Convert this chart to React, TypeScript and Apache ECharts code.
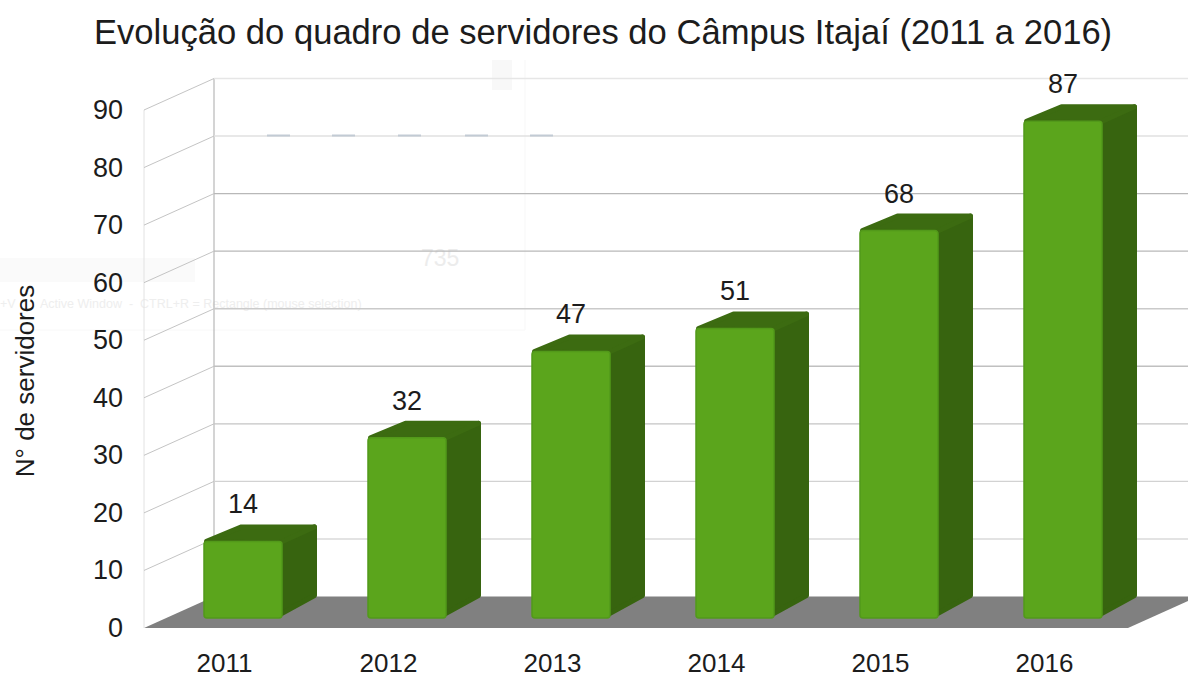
import React, { useEffect, useRef } from "react";
import * as echarts from "echarts";

const titleText = "Evolução do quadro de servidores do Câmpus Itajaí (2011 a 2016)";
const yAxisName = "N° de servidores";
const years = ["2011", "2012", "2013", "2014", "2015", "2016"];
const servers = [14, 32, 47, 51, 68, 87];
const wallTicks = [0, 10, 20, 30, 40, 50, 60, 70, 80, 90];

const FONT = "'Liberation Sans', Arial, sans-serif";
const INK = "#1c1c1c";
const WALL_DX = 70;
const WALL_DY = -31.5;
const gridColor: Record<number, string> = {
  0: "#cfcfcf", 10: "#dadada", 20: "#d2d2d2", 30: "#c4c4c4", 40: "#c0c0c0",
  50: "#cacaca", 60: "#b8b8b8", 70: "#b8b8b8", 80: "#e0e0e0", 90: "#e6e6e6",
};

export default function App() {
  const ref = useRef<HTMLDivElement>(null);
  useEffect(() => {
    document.body.style.margin = "0";
    const chart = echarts.init(ref.current!, undefined, { renderer: "svg" });

    const renderWall = (params: any, api: any) => {
      const tick = api.value(1);
      const cs = params.coordSys;
      const [, y] = api.coord([0, tick]);
      const left = cs.x;
      const right = cs.x + cs.width;
      const children: any[] = [];
      if (tick === 0) {
        children.push({
          type: "polygon",
          shape: { points: [[left, y], [right, y], [right + WALL_DX, y + WALL_DY], [left + WALL_DX, y + WALL_DY]] },
          style: { fill: "#808080" },
        });
        children.push({
          type: "line",
          shape: { x1: left, y1: cs.y, x2: left, y2: y },
          style: { stroke: "#e2e2e2", lineWidth: 1 },
        });
        children.push({
          type: "line",
          shape: { x1: left + WALL_DX, y1: cs.y + WALL_DY, x2: left + WALL_DX, y2: y + WALL_DY },
          style: { stroke: "#b8b8b8", lineWidth: 1.2 },
        });
      } else {
        children.push({
          type: "line",
          shape: { x1: left + WALL_DX, y1: y + WALL_DY, x2: right + WALL_DX, y2: y + WALL_DY },
          style: { stroke: gridColor[tick], lineWidth: 1.4 },
        });
        children.push({
          type: "line",
          shape: { x1: left, y1: y, x2: left + WALL_DX, y2: y + WALL_DY },
          style: { stroke: "#c4c4c4", lineWidth: 1 },
        });
      }
      return { type: "group", children };
    };

    const renderBar = (_params: any, api: any) => {
      const [cx, cy] = api.coord([api.value(0), api.value(1)]);
      const [, baseY] = api.coord([api.value(0), 0]);
      const halfW = 39;
      const x0 = cx + 17 - halfW;
      const x1 = cx + 17 + halfW;
      const yt = cy - 6;
      const yb = baseY - 10;
      const dx = 35;
      const dy = -17;
      const inset = 2.5;
      const round = { lineWidth: inset * 2, lineJoin: "round" };
      return {
        type: "group",
        children: [
          {
            type: "polygon",
            shape: {
              points: [
                [x1 - 4, yt],
                [x1 + dx - inset, yt + dy + inset],
                [x1 + dx - inset, yb + dy - 3 - inset],
                [x1 - 4, yb - inset],
              ],
            },
            style: { fill: "#37640f", stroke: "#37640f", ...round },
          },
          {
            type: "polygon",
            shape: {
              points: [
                [x0 + inset, yt],
                [x0 + dx + inset, yt + dy + inset],
                [x1 + dx - inset, yt + dy + inset],
                [x1 - 4, yt + 2],
              ],
            },
            style: { fill: "#3c6b11", stroke: "#3c6b11", ...round },
          },
          {
            type: "rect",
            shape: { x: x0, y: yt, width: x1 - x0, height: yb - yt, r: 3 },
            style: { fill: "#5ba51c", stroke: "#52991a", lineWidth: 1.5 },
          },
          {
            type: "text",
            x: cx + 17,
            y: yt - 37,
            style: {
              text: String(api.value(1)),
              fontFamily: FONT,
              fontSize: 27,
              fill: INK,
              align: "center",
              verticalAlign: "middle",
            },
          },
        ],
      };
    };

    const ghostDashes = [267, 332, 398, 465, 530];

    chart.setOption({
      animation: false,
      backgroundColor: "#ffffff",
      title: {
        text: titleText,
        left: 94,
        top: 14,
        padding: 0,
        textStyle: { fontFamily: FONT, fontSize: 34.6, fontWeight: "normal", color: INK },
      },
      graphic: [
        { type: "rect", shape: { x: 0, y: 258, width: 195, height: 24 }, style: { fill: "#fafafa" }, z: -1 },
        { type: "line", shape: { x1: 525, y1: 60, x2: 525, y2: 330 }, style: { stroke: "#f7f7f7", lineWidth: 1 }, z: -1 },
        { type: "line", shape: { x1: 0, y1: 330, x2: 525, y2: 330 }, style: { stroke: "#f8f8f8", lineWidth: 1 }, z: -1 },
        { type: "rect", shape: { x: 492, y: 60, width: 20, height: 30 }, style: { fill: "#f8f8f8" }, z: -1 },
        {
          type: "text", x: 0, y: 297, z: -1,
          style: { text: "+V", fontFamily: FONT, fontSize: 12.5, fill: "#eeeeee" },
        },
        {
          type: "text", x: 40, y: 297, z: -1,
          style: { text: "Active Window  -  CTRL+R = Rectangle (mouse selection)", fontFamily: FONT, fontSize: 12.5, fill: "#eeeeee" },
        },
        {
          type: "text", x: 421, y: 246, z: -1,
          style: { text: "735", fontFamily: FONT, fontSize: 23, fill: "#ececec" },
        },
        ...ghostDashes.map((x) => ({
          type: "line", z: 3,
          shape: { x1: x, y1: 135.5, x2: x + 23, y2: 135.5 },
          style: { stroke: "#c2cbd4", lineWidth: 2 },
        })),
        {
          type: "text",
          x: 25, y: 381, rotation: Math.PI / 2,
          style: { text: yAxisName, fontFamily: FONT, fontSize: 26, fill: INK, align: "center", verticalAlign: "middle" },
        },
      ],
      grid: { left: 144, top: 110, width: 984, height: 518, outerBoundsMode: "none" },
      xAxis: {
        type: "category",
        data: years,
        axisLine: { show: false },
        axisTick: { show: false },
        axisLabel: { fontFamily: FONT, fontSize: 26, color: INK, margin: 22, padding: [0, 3, 0, 0], lineHeight: 26 },
      },
      yAxis: {
        type: "value",
        min: 0,
        max: 90,
        interval: 10,
        axisLine: { show: false },
        axisTick: { show: false },
        splitLine: { show: false },
        axisLabel: { fontFamily: FONT, fontSize: 27, color: INK, margin: 21 },
      },
      series: [
        {
          type: "custom",
          z: 1,
          silent: true,
          renderItem: renderWall,
          data: wallTicks.map((t) => [0, t]),
          clip: false,
        },
        {
          type: "custom",
          z: 2,
          renderItem: renderBar,
          data: years.map((_y, i) => [i, servers[i]]),
          encode: { x: 0, y: 1 },
          clip: false,
        },
      ],
    });
    return () => chart.dispose();
  }, []);
  return <div ref={ref} style={{ width: 1188, height: 677 }} />;
}
